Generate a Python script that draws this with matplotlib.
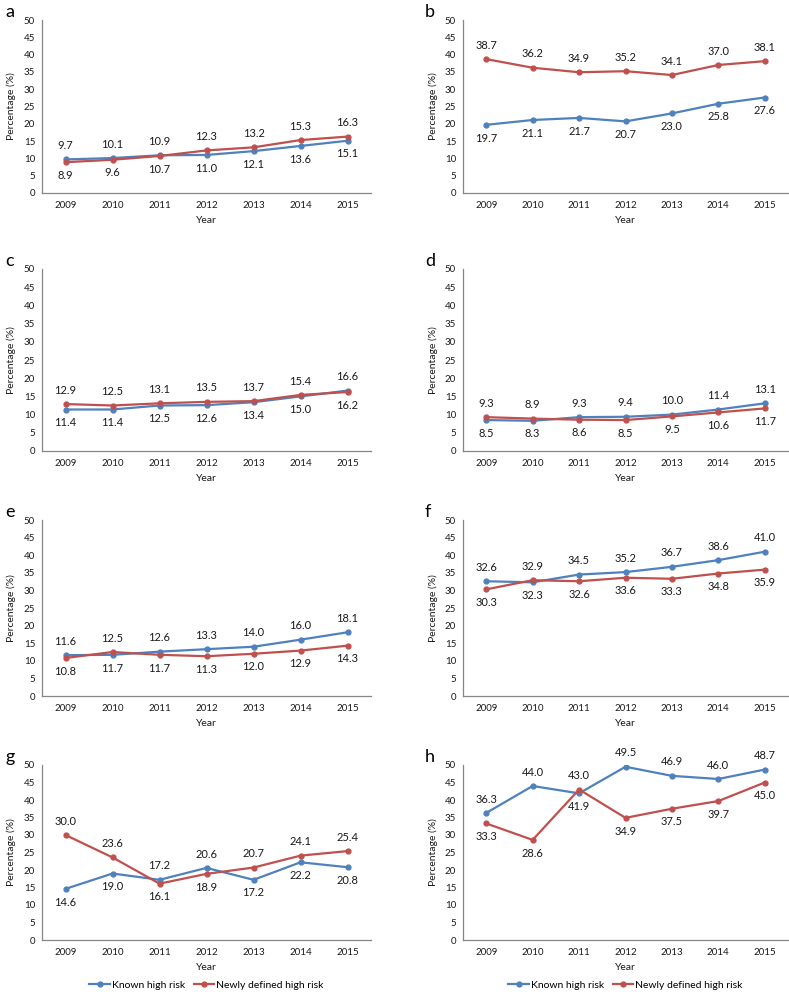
import matplotlib
matplotlib.use("Agg")
import matplotlib.pyplot as plt

plt.rcParams['font.family'] = ['Lato', 'DejaVu Sans']

# === DATA ===
years = ["2009", "2010", "2011", "2012", "2013", "2014", "2015"]
panels = ["a", "b", "c", "d", "e", "f", "g", "h"]

known_a = [9.7, 10.1, 10.9, 11.0, 12.1, 13.6, 15.1]
new_a = [8.9, 9.6, 10.7, 12.3, 13.2, 15.3, 16.3]
known_b = [19.7, 21.1, 21.7, 20.7, 23.0, 25.8, 27.6]
new_b = [38.7, 36.2, 34.9, 35.2, 34.1, 37.0, 38.1]
known_c = [11.4, 11.4, 12.5, 12.6, 13.4, 15.0, 16.6]
new_c = [12.9, 12.5, 13.1, 13.5, 13.7, 15.4, 16.2]
known_d = [8.5, 8.3, 9.3, 9.4, 10.0, 11.4, 13.1]
new_d = [9.3, 8.9, 8.6, 8.5, 9.5, 10.6, 11.7]
known_e = [11.6, 11.7, 12.6, 13.3, 14.0, 16.0, 18.1]
new_e = [10.8, 12.5, 11.7, 11.3, 12.0, 12.9, 14.3]
known_f = [32.6, 32.3, 34.5, 35.2, 36.7, 38.6, 41.0]
new_f = [30.3, 32.9, 32.6, 33.6, 33.3, 34.8, 35.9]
known_g = [14.6, 19.0, 17.2, 20.6, 17.2, 22.2, 20.8]
new_g = [30.0, 23.6, 16.1, 18.9, 20.7, 24.1, 25.4]
known_h = [36.3, 44.0, 41.9, 49.5, 46.9, 46.0, 48.7]
new_h = [33.3, 28.6, 43.0, 34.9, 37.5, 39.7, 45.0]

known = [known_a, known_b, known_c, known_d, known_e, known_f, known_g, known_h]
newly = [new_a, new_b, new_c, new_d, new_e, new_f, new_g, new_h]

BLUE = "#4F81BD"
RED = "#C0504D"
AXIS = "#868686"
TXT = "#1a1a1a"

# === LAYOUT (pixels -> figure fractions) ===
W, H = 789, 992
col_x = [(42, 371), (463, 788)]
row_y = [(20, 193), (269, 451), (520, 696), (765, 940)]

fig = plt.figure(figsize=(W / 100, H / 100), dpi=100)

for i, letter in enumerate(panels):
    r, c = divmod(i, 2)
    x0, x1 = col_x[c]
    y0, y1 = row_y[r]
    ax = fig.add_axes([x0 / W, 1 - y1 / H, (x1 - x0) / W, (y1 - y0) / H])

    xs = list(range(len(years)))
    lk, = ax.plot(xs, known[i], color=BLUE, lw=1.6, marker="o", ms=3.5,
                  label="Known high risk", zorder=3)
    ln, = ax.plot(xs, newly[i], color=RED, lw=1.6, marker="o", ms=3.5,
                  label="Newly defined high risk", zorder=3)

    # data labels: higher value above, lower value below
    for x, k, n in zip(xs, known[i], newly[i]):
        hi, lo = (k, n) if k >= n else (n, k)
        ax.annotate(f"{hi:.1f}", (x, hi), xytext=(0, 10), textcoords="offset points",
                    ha="center", va="center", fontsize=8, color=TXT)
        ax.annotate(f"{lo:.1f}", (x, lo), xytext=(0, -9.5), textcoords="offset points",
                    ha="center", va="center", fontsize=8, color=TXT)

    ax.set_xlim(-0.5, len(years) - 0.5)
    ax.set_ylim(0, 50)
    ax.set_yticks(range(0, 51, 5))
    ax.set_xticks(xs)
    ax.set_xticklabels(years)
    ax.tick_params(length=0, labelsize=7, colors=TXT)
    ax.tick_params(axis="y", pad=5)
    ax.tick_params(axis="x", pad=6)

    for s in ["top", "right"]:
        ax.spines[s].set_visible(False)
    for s in ["left", "bottom"]:
        ax.spines[s].set_color(AXIS)
        ax.spines[s].set_linewidth(0.9)

    ax.set_ylabel("Percentage (%)", fontsize=7.5, color=TXT)
    ax.yaxis.set_label_coords(-0.078, 0.5)
    ax.set_xlabel("Year", fontsize=7.5, color=TXT, labelpad=4)

    fig.text((5 if c == 0 else 425) / W, 1 - (y0 - 8) / H, letter,
             fontsize=13, ha="left", va="center")

    if r == 3:
        ax.legend(handles=[lk, ln], loc="center", bbox_to_anchor=(0.5, -0.257),
                  ncol=2, frameon=False, fontsize=7.5, handlelength=2.0,
                  handletextpad=0.2, columnspacing=0.8, borderaxespad=0)

fig.savefig("out.png", dpi=100)
